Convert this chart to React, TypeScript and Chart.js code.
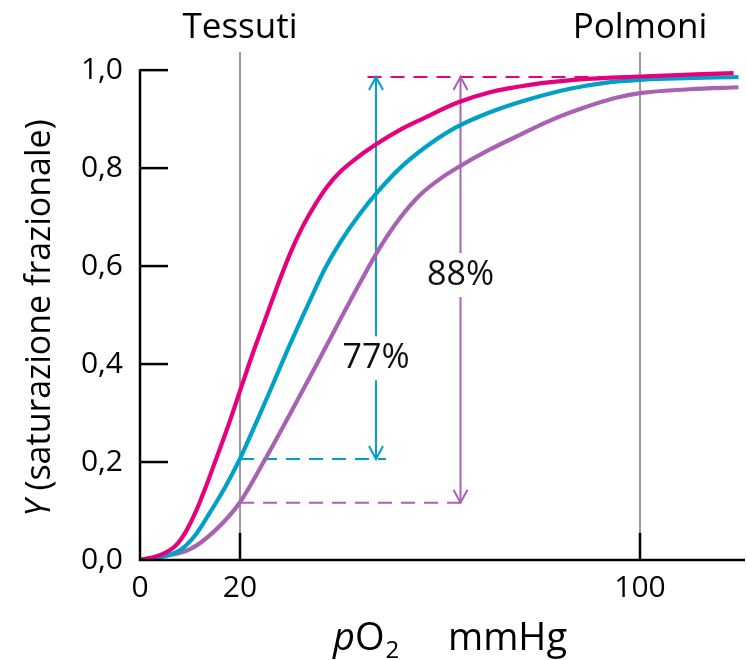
import React, { useEffect, useRef } from "react";
import { Chart, registerables } from "chart.js";

Chart.register(...registerables);

const FONT = '"Open Sans", "Noto Sans", sans-serif';

// pO2 (mmHg) / fractional saturation Y
const HIGH_X = [0, 4, 7, 9, 11, 13, 15, 17.5, 20, 22.5, 25, 27.5, 30, 32.5, 35, 37.5, 40, 43, 47, 52, 57, 63, 70, 78, 88, 100, 118.7];
const HIGH_Y = [0, 0.01, 0.028, 0.055, 0.095, 0.145, 0.2, 0.27, 0.345, 0.42, 0.49, 0.56, 0.625, 0.68, 0.725, 0.763, 0.792, 0.818, 0.847, 0.878, 0.903, 0.932, 0.955, 0.97, 0.981, 0.987, 0.994];

const MID_X = [0, 4, 8, 11, 14, 17, 20, 23, 26, 30, 34, 37, 40, 44, 48, 52, 57, 63, 70, 78, 86, 93, 100, 119.7];
const MID_Y = [0, 0.006, 0.02, 0.05, 0.097, 0.148, 0.207, 0.275, 0.345, 0.44, 0.53, 0.595, 0.648, 0.707, 0.757, 0.8, 0.842, 0.882, 0.914, 0.941, 0.962, 0.974, 0.98, 0.986];

const LOW_X = [0, 5, 10, 15, 20, 25, 30, 35, 40, 44, 48, 52, 56, 60, 64, 70, 76, 82, 89, 95, 100, 110, 119.7];
const LOW_Y = [0, 0.008, 0.022, 0.06, 0.118, 0.205, 0.298, 0.393, 0.49, 0.566, 0.638, 0.698, 0.745, 0.778, 0.804, 0.838, 0.868, 0.897, 0.924, 0.943, 0.953, 0.961, 0.965];

const X_TICKS = [0, 20, 100];
const Y_TICKS = [0, 0.2, 0.4, 0.6, 0.8, 1.0];
const X_MAX = 121;
const Y_MAX = 1.037;

const REF_X = [20, 100];
const REF_LABELS = ["Tessuti", "Polmoni"];

const TOP_LEVEL = 0.986;
const TOP_DASH_X = [45.5, 100];
const LOW_LEVELS = [0.206, 0.117];
const LOW_DASH_END_X = [49.2, 65.9];
const ARROW_X = [47.2, 64.1];
const ARROW_LABELS = ["77%", "88%"];
const ARROW_LABEL_Y = [0.412, 0.582];

const C_HIGH = "#E6007E";
const C_MID = "#00A1C6";
const C_LOW = "#A862B3";
const ARROW_COLORS = [C_MID, C_LOW];
const GREY = "#9a9a9a";

const toPoints = (xs: number[], ys: number[]) => xs.map((x, i) => ({ x, y: ys[i] }));

const decor = {
  id: "decor",
  beforeDatasetsDraw(chart: any) {
    const { ctx, scales } = chart;
    const xs = scales.x, ys = scales.y;
    ctx.save();
    ctx.strokeStyle = GREY;
    ctx.lineWidth = 2;
    REF_X.forEach((v) => {
      const px = xs.getPixelForValue(v);
      ctx.beginPath();
      ctx.moveTo(px, ys.getPixelForValue(Y_MAX));
      ctx.lineTo(px, ys.getPixelForValue(0));
      ctx.stroke();
    });
    ctx.lineWidth = 2;
    ctx.setLineDash([14, 9]);
    ctx.strokeStyle = C_HIGH;
    ctx.beginPath();
    ctx.moveTo(xs.getPixelForValue(TOP_DASH_X[0]), ys.getPixelForValue(TOP_LEVEL));
    ctx.lineTo(xs.getPixelForValue(TOP_DASH_X[1]), ys.getPixelForValue(TOP_LEVEL));
    ctx.stroke();
    LOW_LEVELS.forEach((lv, i) => {
      ctx.strokeStyle = ARROW_COLORS[i];
      ctx.beginPath();
      ctx.moveTo(xs.getPixelForValue(REF_X[0]), ys.getPixelForValue(lv));
      ctx.lineTo(xs.getPixelForValue(LOW_DASH_END_X[i]), ys.getPixelForValue(lv));
      ctx.stroke();
    });
    ctx.setLineDash([]);
    ctx.font = `34px ${FONT}`;
    ctx.textAlign = "center";
    ctx.textBaseline = "middle";
    ARROW_X.forEach((ax, i) => {
      const px = xs.getPixelForValue(ax);
      const yTop = ys.getPixelForValue(TOP_LEVEL);
      const yBot = ys.getPixelForValue(LOW_LEVELS[i]);
      const yTxt = ys.getPixelForValue(ARROW_LABEL_Y[i]);
      ctx.strokeStyle = ARROW_COLORS[i];
      ctx.lineWidth = 2;
      ctx.beginPath();
      ctx.moveTo(px, yTop);
      ctx.lineTo(px, yTxt - 22);
      ctx.moveTo(px, yTxt + 22);
      ctx.lineTo(px, yBot);
      ctx.stroke();
      ctx.beginPath();
      ctx.moveTo(px - 7, yTop + 13);
      ctx.lineTo(px, yTop);
      ctx.lineTo(px + 7, yTop + 13);
      ctx.moveTo(px - 7, yBot - 13);
      ctx.lineTo(px, yBot);
      ctx.lineTo(px + 7, yBot - 13);
      ctx.stroke();
      ctx.fillStyle = "#111";
      ctx.fillText(ARROW_LABELS[i], px, yTxt);
    });
    ctx.restore();
  },
  afterDatasetsDraw(chart: any) {
    const { ctx, scales, chartArea } = chart;
    const xs = scales.x, ys = scales.y;
    const x0 = xs.getPixelForValue(0);
    const y0 = ys.getPixelForValue(0);
    ctx.save();
    ctx.strokeStyle = "#000";
    ctx.lineWidth = 2.5;
    ctx.lineCap = "butt";
    ctx.beginPath();
    ctx.moveTo(x0, ys.getPixelForValue(1) - 1);
    ctx.lineTo(x0, y0);
    ctx.lineTo(chartArea.right, y0);
    ctx.stroke();
    Y_TICKS.forEach((v) => {
      if (v === 0) return;
      const py = ys.getPixelForValue(v);
      ctx.beginPath();
      ctx.moveTo(x0, py);
      ctx.lineTo(x0 + 28, py);
      ctx.stroke();
    });
    REF_X.forEach((v) => {
      const px = xs.getPixelForValue(v);
      ctx.beginPath();
      ctx.moveTo(px, y0);
      ctx.lineTo(px, y0 - 27);
      ctx.stroke();
    });
    ctx.fillStyle = "#000";
    ctx.textAlign = "center";
    ctx.textBaseline = "alphabetic";
    ctx.font = `35px ${FONT}`;
    REF_X.forEach((v, i) => {
      ctx.fillText(REF_LABELS[i], xs.getPixelForValue(v), 38);
    });
    ctx.save();
    ctx.translate(50, 318);
    ctx.rotate(-Math.PI / 2);
    ctx.textAlign = "left";
    const italic = `italic 34px ${FONT}`;
    const normal = `34px ${FONT}`;
    ctx.font = italic;
    const wY = ctx.measureText("Y").width;
    ctx.font = normal;
    const rest = " (saturazione frazionale)";
    const wR = ctx.measureText(rest).width;
    const start = -(wY + wR) / 2;
    ctx.font = italic;
    ctx.fillText("Y", start, 0);
    ctx.font = normal;
    ctx.fillText(rest, start + wY, 0);
    ctx.restore();
    ctx.textAlign = "left";
    let cx = 333;
    ctx.font = `italic 38px ${FONT}`;
    ctx.fillText("p", cx, 650);
    cx += ctx.measureText("p").width;
    ctx.font = `38px ${FONT}`;
    ctx.fillText("O", cx, 650);
    cx += ctx.measureText("O").width;
    ctx.font = `24px ${FONT}`;
    ctx.fillText("2", cx + 1, 658);
    ctx.font = `38px ${FONT}`;
    ctx.fillText("mmHg", 448, 650);
    ctx.restore();
  },
};

export default function App() {
  const ref = useRef<HTMLCanvasElement | null>(null);
  useEffect(() => {
    if (!ref.current) return;
    const line = (data: any, color: string) => ({
      data,
      borderColor: color,
      backgroundColor: color,
      borderWidth: 4.2,
      pointRadius: 0,
      fill: false,
      cubicInterpolationMode: "monotone" as const,
    });
    const chart = new Chart(ref.current, {
      type: "line",
      data: {
        datasets: [
          line(toPoints(HIGH_X, HIGH_Y), C_HIGH),
          line(toPoints(MID_X, MID_Y), C_MID),
          line(toPoints(LOW_X, LOW_Y), C_LOW),
        ],
      },
      options: {
        animation: false,
        responsive: false,
        events: [],
        layout: { padding: { top: 52, right: 2, left: 0, bottom: 0 } },
        plugins: { legend: { display: false }, tooltip: { enabled: false } },
        scales: {
          x: {
            type: "linear",
            min: 0,
            max: X_MAX,
            grid: { display: false, drawTicks: false },
            border: { display: false },
            afterBuildTicks: (s: any) => {
              s.ticks = X_TICKS.map((v) => ({ value: v }));
            },
            afterFit: (s: any) => {
              s.height = 100;
            },
            ticks: {
              color: "#000",
              padding: 10,
              maxRotation: 0,
              autoSkip: false,
              font: { family: FONT, size: 30 },
              callback: (v: any) => String(v),
            },
          },
          y: {
            type: "linear",
            min: 0,
            max: Y_MAX,
            grid: { display: false, drawTicks: false },
            border: { display: false },
            afterBuildTicks: (s: any) => {
              s.ticks = Y_TICKS.map((v) => ({ value: v }));
            },
            afterFit: (s: any) => {
              s.width = 140;
            },
            ticks: {
              color: "#000",
              padding: 17,
              autoSkip: false,
              font: { family: FONT, size: 30 },
              callback: (v: any) => Number(v).toFixed(1).replace(".", ","),
            },
          },
        },
      },
      plugins: [decor],
    });
    return () => chart.destroy();
  }, []);
  return (
    <div style={{ position: "fixed", left: 0, top: 0, width: 747, height: 660, background: "#fff" }}>
      <canvas ref={ref} width={747} height={660} style={{ display: "block" }} />
    </div>
  );
}
